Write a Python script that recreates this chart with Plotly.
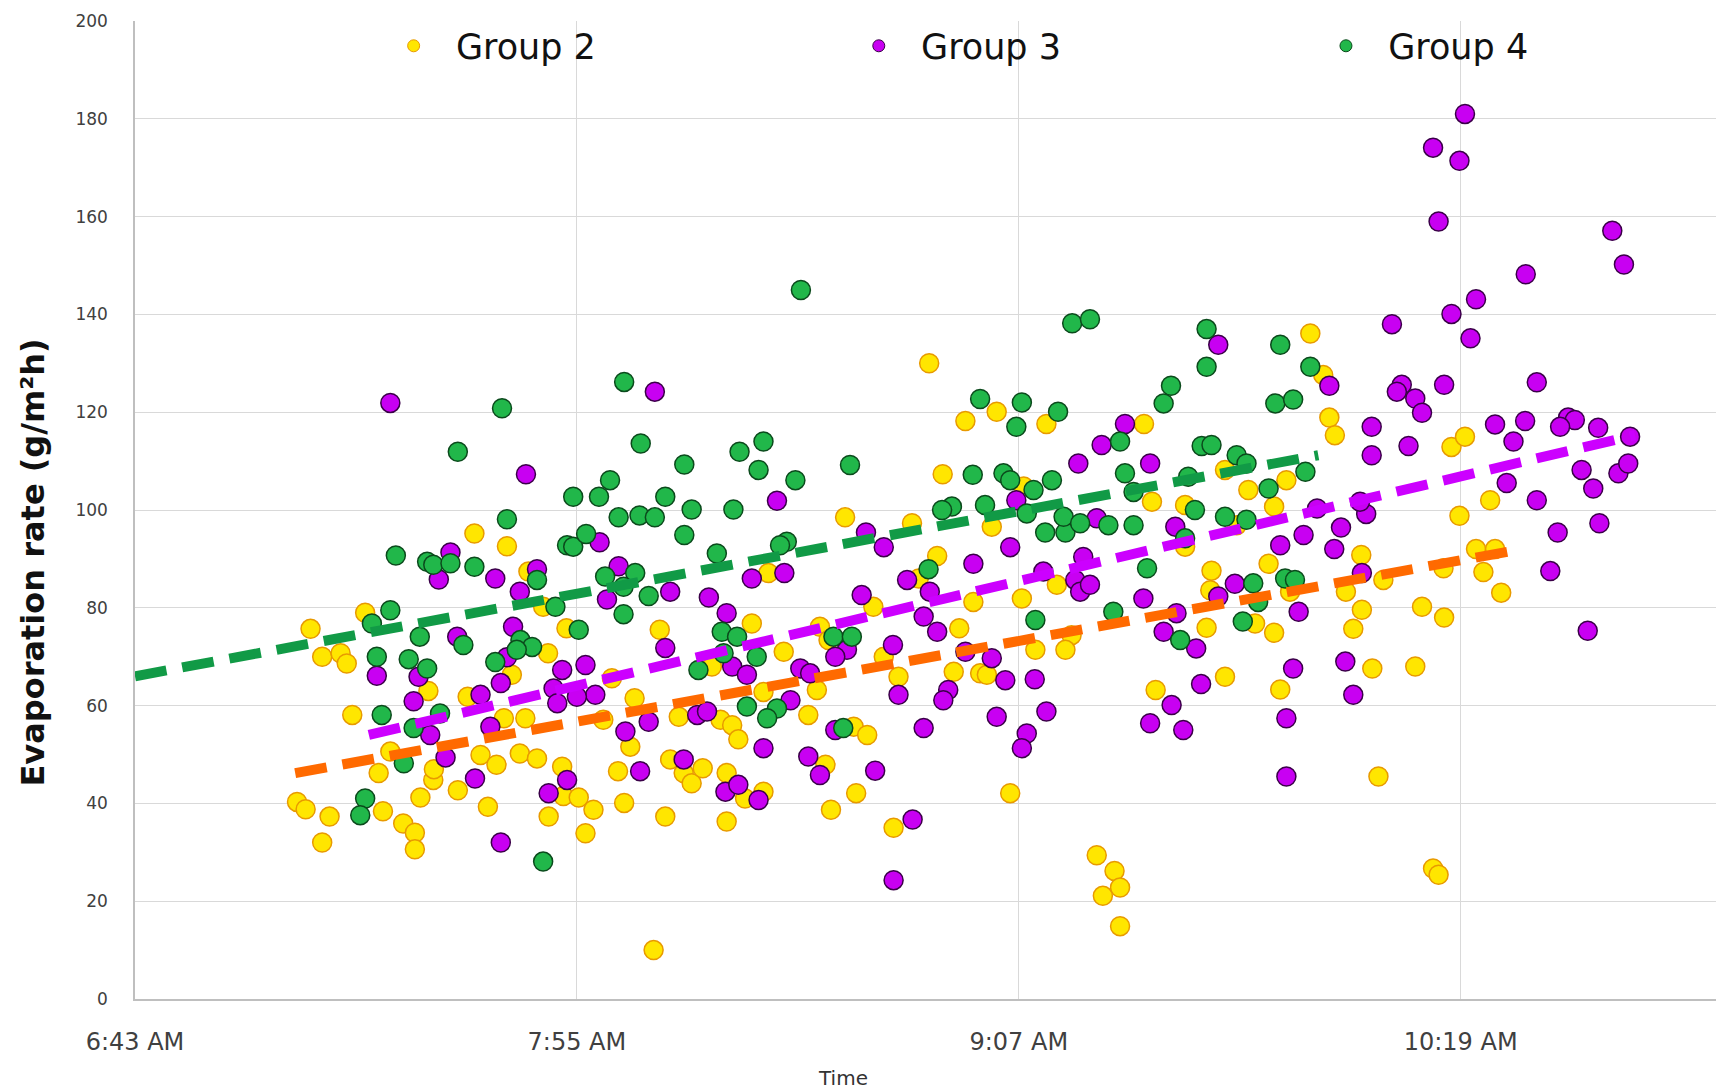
import pandas as pd
import plotly.graph_objects as go

# Time is stored as minutes after 6:43 AM
BASE = pd.Timestamp("2000-01-01 06:43")

G2_MIN = [129.4, 140.4, 135.3, 148.5, 164.4, 191.5, 193.6, 194.6, 55.3, 60.6, 64.1, 66.5, 37.5, 28.6, 30.5, 33.5,
          34.5, 47.8, 67.3, 61.4, 70.3, 85.5, 94.0, 77.7, 81.4, 88.6, 95.4, 35.4, 54.2, 60.1, 63.6, 76.3,
          165.7, 115.7, 131.6, 144.8, 139.6, 126.6, 103.2, 130.7, 127.7, 136.6, 144.5, 150.2, 171.1, 120.3,
          134.3, 122.0, 152.6, 151.6, 146.7, 100.5, 105.7, 111.6, 113.0, 111.1, 102.4, 97.3, 109.7, 117.1,
          119.3, 124.4, 133.4, 137.7, 138.8, 166.3, 195.5, 214.5, 216.7, 220.8, 215.8, 218.5, 221.6, 219.7,
          222.6, 213.2, 209.7, 213.3, 203.4, 199.8, 197.3, 199.9, 198.5, 201.6, 208.6, 184.7, 188.2, 185.6,
          186.6, 177.6, 182.5, 174.6, 175.2, 175.4, 181.4, 187.6, 185.6, 177.6, 179.5, 171.1, 26.4, 27.8,
          31.7, 30.5, 40.4, 43.7, 45.6, 45.6, 46.5, 48.6, 48.7, 52.6, 57.5, 56.3, 58.9, 62.7, 65.5, 69.6,
          69.8, 72.3, 67.4, 74.7, 73.4, 78.7, 80.7, 79.7, 86.4, 87.2, 89.4, 90.7, 92.5, 96.4, 84.5, 39.7,
          41.6, 98.3, 96.4, 102.4, 99.4, 112.5, 117.5, 113.4, 123.6, 142.6, 156.7, 159.6, 160.5, 157.7,
          160.5, 202.6, 211.5, 212.4]
G2_VAL = [130.0, 120.1, 118.2, 117.6, 117.6, 136.1, 127.6, 118.9, 95.2, 92.6, 87.4, 80.2, 79.0, 75.7, 70.0, 70.7,
          68.6, 63.0, 70.7, 66.3, 75.8, 75.5, 68.0, 65.6, 61.5, 57.7, 57.1, 58.1, 61.8, 57.4, 57.4, 57.1,
          101.7, 98.5, 107.3, 104.8, 96.6, 97.3, 87.1, 90.6, 86.0, 81.2, 81.9, 84.7, 92.5, 80.2,
          75.8, 70.0, 74.4, 71.4, 71.4, 76.8, 71.0, 76.1, 73.4, 63.2, 62.8, 56.0, 58.1, 55.7,
          54.0, 65.9, 66.9, 66.6, 66.3, 63.2, 115.3, 112.9, 115.0, 102.0, 98.8, 92.0, 92.0, 87.3,
          83.1, 88.1, 80.2, 78.0, 85.7, 90.8, 83.3, 79.6, 75.7, 67.6, 68.0, 89.0, 83.3, 74.9,
          63.3, 65.9, 76.8, 75.9, 83.6, 87.6, 104.1, 106.1, 100.7, 108.2, 96.9, 101.0, 40.3, 38.8,
          37.3, 32.0, 38.4, 35.9, 34.0, 30.6, 41.2, 44.8, 47.0, 42.7, 39.3, 49.9, 47.9, 50.2, 49.2, 47.5,
          41.5, 41.2, 37.3, 38.7, 33.9, 46.6, 51.6, 40.1, 37.3, 49.0, 46.2, 44.1, 47.2, 36.3, 10.0, 46.2,
          50.6, 53.1, 46.2, 42.4, 41.0, 47.9, 42.1, 38.7, 35.0, 42.1, 29.4, 26.2, 22.8, 21.1,
          14.9, 45.5, 26.7, 25.4]

G3_MIN = [161.3, 216.7, 211.5, 215.8, 212.4, 240.7, 242.6, 226.6, 218.5, 214.5, 204.8, 217.6, 228.4, 213.3, 206.4,
          205.6, 208.6, 209.7, 194.6, 176.5, 201.5, 221.6, 226.5, 233.5, 234.6, 232.2, 238.4, 41.6, 84.7,
          63.7, 51.4, 49.5, 58.7, 75.7, 65.5, 62.7, 78.8, 76.9, 87.2, 93.5, 39.4, 46.2, 45.4, 52.5, 61.6,
          60.6, 59.6, 69.6, 73.4, 86.4, 96.4, 68.2, 68.8, 83.7, 79.9, 91.6, 93.2, 56.3, 57.9, 48.1, 75.0,
          72.0, 157.5, 153.7, 165.4, 104.6, 143.6, 119.1, 122.0, 156.7, 100.5, 105.8, 142.6, 136.6, 125.8,
          129.5, 148.0, 153.2, 154.0, 155.6, 154.5, 164.3, 169.5, 118.4, 128.5, 130.7, 135.3, 139.6, 123.5,
          167.6, 97.3, 99.7, 116.0, 108.4, 110.0, 114.1, 106.8, 114.1, 124.4, 132.5, 131.7, 141.8, 146.6,
          140.4, 148.5, 128.5, 145.3, 168.9, 165.4, 170.8, 201.5, 207.5, 224.6, 243.6, 235.7, 241.7, 243.3,
          237.6, 223.5, 228.4, 231.8, 238.6, 230.6, 236.7, 200.6, 199.6, 196.5, 195.4, 199.9, 197.2, 198.5,
          190.4, 186.6, 192.6, 189.6, 188.7, 187.6, 173.7, 172.9, 176.5, 179.2, 169.7, 50.6, 55.4, 59.6,
          70.4, 67.4, 82.3, 89.4, 96.2, 102.4, 98.3, 101.6, 109.7, 111.6, 120.6, 126.7, 123.6, 144.5, 187.6]
G3_VAL = [117.6, 181.0, 174.1, 171.4, 159.0, 157.1, 150.2, 148.2, 143.1, 140.1, 138.0, 135.1, 126.1, 125.6, 125.6,
          124.2, 122.8, 119.9, 125.4, 133.8, 117.0, 117.5, 118.2, 118.9, 118.4, 117.0, 116.8, 121.9, 124.2,
          107.3, 91.3, 85.8, 86.0, 93.4, 87.9, 83.3, 88.5, 81.7, 83.3, 82.1, 66.1, 65.9, 60.9, 74.1, 76.1,
          69.9, 64.6, 67.3, 68.3, 71.8, 78.9, 63.5, 60.5, 56.7, 54.7, 58.1, 58.8, 62.2, 55.7, 54.0, 62.2,
          61.8, 113.3, 109.5, 109.5, 101.9, 102.0, 95.4, 92.4, 98.3, 86.0, 87.1, 92.4, 89.0, 85.7,
          83.3, 87.4, 85.7, 83.3, 84.7, 90.4, 81.9, 96.6, 82.6, 78.2, 75.1, 71.0, 69.7, 72.4,
          75.1, 68.0, 66.3, 71.4, 67.6, 66.6, 70.0, 61.1, 55.0, 62.2, 63.2, 61.1, 65.2, 65.4,
          57.7, 58.8, 55.4, 54.3, 60.1, 56.4, 55.0, 111.2, 113.1, 114.0, 115.0, 108.2, 107.5, 109.5,
          104.4, 105.5, 102.0, 95.4, 97.3, 87.5, 75.3, 99.2, 101.7, 96.4, 92.0, 87.1, 69.0, 62.2,
          94.9, 92.8, 100.3, 79.2, 67.6, 57.4, 64.4, 71.7, 82.3, 84.9, 78.9, 49.4, 45.1, 32.0,
          44.8, 42.1, 46.6, 49.0, 42.4, 51.3, 43.8, 40.7, 49.6, 45.8, 46.7, 36.7, 24.3, 51.3, 45.5]

G4_MIN = [59.8, 79.7, 108.5, 152.7, 155.6, 137.7, 144.5, 150.4, 143.6, 168.8, 167.6, 174.6, 174.6, 186.6, 191.5,
          185.8, 188.7, 52.6, 82.4, 89.5, 71.4, 75.6, 77.4, 86.4, 90.7, 78.8, 82.2, 84.7, 89.5, 60.6, 42.5,
          47.6, 48.6, 51.4, 55.3, 70.4, 71.4, 73.5, 65.5, 68.5, 76.6, 81.5, 79.6, 83.7, 79.6, 94.8, 41.6,
          38.6, 39.4, 44.6, 47.6, 46.4, 53.5, 62.8, 64.7, 62.2, 58.7, 72.3, 95.6, 95.9, 91.8, 40.2, 45.4,
          49.7, 160.5, 161.3, 171.6, 162.7, 98.5, 102.4, 101.6, 107.6, 116.5, 97.5, 136.5, 141.5, 142.6,
          146.4, 149.4, 138.5, 145.3, 148.3, 151.6, 151.3, 154.0, 158.6, 162.7, 133.1, 131.5, 106.2, 105.1,
          129.3, 164.9, 146.7, 159.4, 170.3, 98.1, 101.3, 113.8, 116.8, 104.6, 103.0, 99.7, 115.4, 187.4,
          189.0, 190.7, 184.7, 173.8, 175.4, 179.5, 181.1, 177.6, 181.1, 172.7, 171.1, 180.5, 182.2, 183.0,
          37.5, 36.7, 66.5, 43.8]
G4_VAL = [120.8, 126.2, 145.0, 138.2, 139.0, 122.7, 122.0, 120.1, 117.0, 125.4, 121.8, 137.0, 129.3, 133.8, 129.3,
          121.8, 122.6, 111.9, 113.6, 109.3, 102.7, 102.7, 106.1, 102.7, 100.1, 98.5, 98.9, 98.5, 94.9, 98.1, 90.7,
          89.4, 88.8, 89.1, 88.4, 92.8, 92.5, 95.1, 85.7, 80.2, 86.4, 87.1, 84.3, 82.4, 78.7, 91.1, 79.5,
          76.8, 70.0, 69.5, 67.6, 74.1, 72.4, 73.4, 72.0, 71.4, 68.9, 75.5, 75.1, 70.7, 67.3, 58.1, 55.4,
          58.4, 114.0, 107.5, 106.8, 103.7, 111.9, 114.0, 108.2, 106.1, 109.2, 100.1, 107.2, 107.5, 106.1,
          104.1, 106.1, 101.0, 99.3, 95.4, 95.4, 98.6, 97.3, 96.9, 96.9, 100.7, 100.0, 93.5, 92.8,
          87.9, 88.1, 77.5, 79.2, 73.4, 74.1, 70.0, 74.1, 74.1, 59.4, 57.4, 59.8, 55.4, 86.0,
          85.7, 107.8, 104.4, 113.1, 113.3, 111.2, 109.5, 98.6, 98.0, 100.0, 94.2, 77.2, 85.0, 81.2,
          41.0, 37.6, 28.1, 48.2]

# Linear trend lines: [start, end] in minutes after 6:43 and values
TREND2_MIN, TREND2_VAL = [26.1, 223.8], [46.2, 91.5]
TREND3_MIN, TREND3_VAL = [38.1, 244.4], [54.0, 115.3]
TREND4_MIN, TREND4_VAL = [0.0, 192.8], [66.0, 111.2]

TICK_MIN = [0, 72, 144, 216]
TICK_TEXT = ["6:43 AM", "7:55 AM", "9:07 AM", "10:19 AM"]
X_END_MIN = 257.6
Y_TICKS = list(range(0, 201, 20))


def to_time(mins):
    return [BASE + pd.Timedelta(minutes=m) for m in mins]


SERIES = [
    ("Group 2", G2_MIN, G2_VAL, "#FFE600", "#E89A00", "legend", 0.1636),
    ("Group 3", G3_MIN, G3_VAL, "#C800F2", "#3A0048", "legend2", 0.4578),
    ("Group 4", G4_MIN, G4_VAL, "#21B74A", "#0B4A1C", "legend3", 0.7533),
]
TRENDS = [
    (TREND2_MIN, TREND2_VAL, "#FF6A00"),
    (TREND3_MIN, TREND3_VAL, "#CC00FF"),
    (TREND4_MIN, TREND4_VAL, "#119A46"),
]

fig = go.Figure()
for name, xs, ys, fill, edge, lg, lx in SERIES:
    fig.add_trace(go.Scatter(
        x=to_time(xs), y=ys, mode="markers", name=name, showlegend=False,
        marker=dict(size=19, color=fill, line=dict(color=edge, width=1.5)),
    ))
for xs, ys, col in TRENDS:
    fig.add_trace(go.Scatter(
        x=to_time(xs), y=ys, mode="lines", showlegend=False, hoverinfo="skip",
        line=dict(color=col, width=10, dash="32px,16px"),
    ))
# legend entries (small markers like the original), one legend box per group
legend_layout = {}
for name, xs, ys, fill, edge, lg, lx in SERIES:
    fig.add_trace(go.Scatter(
        x=[None], y=[None], mode="markers", name="\u00a0\u00a0" + name, showlegend=True, legend=lg,
        marker=dict(size=12, color=fill, line=dict(color=edge, width=1)),
    ))
    legend_layout[lg] = dict(
        orientation="h", x=lx, xanchor="left", y=0.9744, yanchor="middle",
        bgcolor="rgba(0,0,0,0)", borderwidth=0,
        font=dict(size=35, color="#111111", family="DejaVu Sans"),
        itemclick=False,
    )

fig.update_layout(
    width=1716, height=1092,
    margin=dict(l=135, r=0, t=21, b=93),
    paper_bgcolor="white", plot_bgcolor="white",
    font=dict(family="DejaVu Sans", color="#595959"),
    showlegend=True,
    xaxis=dict(
        range=[BASE, BASE + pd.Timedelta(minutes=X_END_MIN)],
        tickvals=to_time(TICK_MIN), ticktext=TICK_TEXT,
        showgrid=True, gridcolor="#D9D9D9", gridwidth=1,
        showline=True, linecolor="#BFBFBF", linewidth=1.5,
        ticks="", ticklabelstandoff=20,
        tickfont=dict(size=24, color="#404040"),
        zeroline=False, automargin=False,
    ),
    yaxis=dict(
        range=[0, 200], tickvals=Y_TICKS,
        showgrid=True, gridcolor="#D9D9D9", gridwidth=1,
        showline=True, linecolor="#BFBFBF", linewidth=1.5,
        ticks="", ticklabelstandoff=22,
        tickfont=dict(size=17, color="#404040"),
        zeroline=False, automargin=False,
    ),
    annotations=[
        dict(text="Evaporation rate (g/m²h)", textangle=-90, xref="paper", yref="paper",
             x=-0.0642, y=0.4468, xanchor="center", yanchor="middle", showarrow=False,
             font=dict(size=32, family="DejaVu Sans", color="#111111", weight="bold")),
        dict(text="Time", xref="paper", yref="paper", x=0.4478, y=-0.0805,
             xanchor="center", yanchor="middle", showarrow=False,
             font=dict(size=20, family="DejaVu Sans", color="#333333")),
    ],
    **legend_layout,
)

fig.write_html(
    "out.html",
    config={"displayModeBar": False},
    post_script="document.body.style.margin='0px';document.body.style.overflow='hidden';",
)
